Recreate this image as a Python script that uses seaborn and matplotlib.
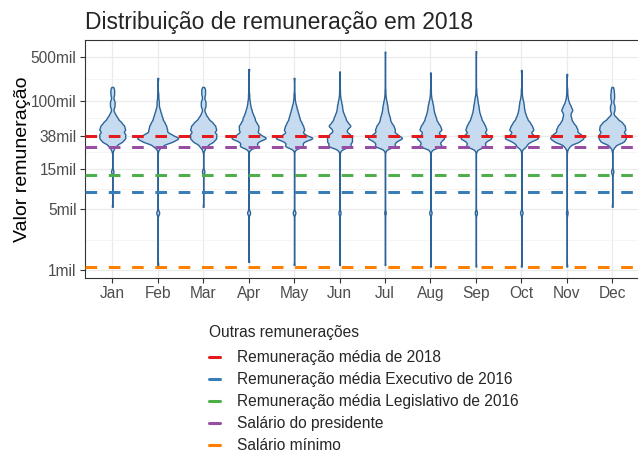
import numpy as np
import pandas as pd
import matplotlib
matplotlib.use("Agg")
import matplotlib.pyplot as plt
from matplotlib.lines import Line2D
from matplotlib.ticker import FixedLocator, NullFormatter
import seaborn as sns

months = ["Jan", "Feb", "Mar", "Apr", "May", "Jun",
          "Jul", "Aug", "Sep", "Oct", "Nov", "Dec"]

# salary levels (R$) where the bulk of the payroll sits
levels = [26000, 29000, 32500, 36000, 40000, 45000, 50000, 55500,
          62000, 69000, 77000, 86000, 96000, 107000, 119000, 133000]

# people at each level, per month
n_jan = [2, 8, 20, 26, 27, 27, 24, 18, 11, 6, 2, 5, 5, 2, 4, 4]
n_feb = [1, 8, 24, 36, 22, 16, 14, 11, 8, 6, 4, 2, 2, 1, 1, 0]
n_mar = [2, 8, 20, 26, 27, 27, 24, 18, 10, 5, 2, 5, 5, 2, 4, 4]
n_apr = [1, 16, 14, 30, 18, 16, 16, 12, 10, 7, 5, 3, 2, 1, 1, 0]
n_may = [1, 18, 16, 36, 18, 19, 16, 13, 10, 8, 6, 4, 2, 1, 1, 0]
n_jun = [3, 28, 28, 28, 24, 16, 26, 18, 14, 10, 7, 6, 4, 2, 1, 1]
n_jul = [2, 26, 24, 42, 28, 24, 20, 14, 12, 9, 7, 6, 4, 2, 1, 1]
n_aug = [2, 26, 20, 30, 18, 24, 20, 15, 12, 9, 7, 6, 4, 2, 1, 1]
n_sep = [2, 24, 20, 36, 22, 24, 20, 16, 12, 9, 7, 6, 4, 3, 1, 1]
n_oct = [1, 10, 16, 34, 20, 24, 20, 16, 11, 8, 6, 5, 4, 2, 1, 1]
n_nov = [1, 6, 24, 34, 28, 22, 18, 12, 9, 7, 12, 8, 4, 2, 1, 1]
n_dec = [1, 6, 24, 28, 28, 28, 26, 20, 10, 2, 5, 5, 2, 4, 4, 3]

# extremes and the small isolated group of each month
min_salary = [5570, 1150, 5570, 1250, 1150, 1150, 1150, 1100, 1100, 1100, 1100, 5570]
max_salary = [144000, 184000, 144000, 234000, 184000, 219000,
              375000, 213000, 380000, 228000, 205000, 144000]
small_group = [14500, 4740, 14500, 4740, 4740, 4740, 4740, 4740, 4740, 4740, 4740, 14500]
small_group_n = [3, 3, 3, 3, 3, 3, 2, 3, 3, 3, 2, 3]

# reference salaries
ref_labels = ["Remuneração média de 2018",
              "Remuneração média Executivo de 2016",
              "Remuneração média Legislativo de 2016",
              "Salário do presidente",
              "Salário mínimo"]
ref_values = [38500, 8300, 13200, 28400, 1094]
ref_colors = ["#E41A1C", "#377EB8", "#4DAF4A", "#984EA3", "#FF7F00"]

tick_values = [1000, 5200, 15700, 38300, 99500, 325000]
tick_labels = ["1mil", "5mil", "15mil", "38mil", "100mil", "500mil"]

# build the long table
all_counts = [n_jan, n_feb, n_mar, n_apr, n_may, n_jun,
              n_jul, n_aug, n_sep, n_oct, n_nov, n_dec]
frames = []
for m, cnt, lo, hi, sg, sn in zip(months, all_counts, min_salary, max_salary,
                                  small_group, small_group_n):
    vals = np.concatenate([np.repeat(levels, cnt), [lo, hi], np.repeat(sg, sn)])
    frames.append(pd.DataFrame({"mes": m, "valor": vals}))
df = pd.concat(frames, ignore_index=True)

sns.set_theme(style="white")
plt.rcParams["font.family"] = ["Liberation Sans", "DejaVu Sans"]

fig = plt.figure(figsize=(6.38, 4.55), dpi=100)
ax = fig.add_axes([85 / 638, 1 - 278 / 455, (639.5 - 85) / 638, (278 - 40) / 455])

# fixed kernel width in log10 space
bw = lambda k: 0.023 / k.dataset.std()

sns.violinplot(data=df, x="mes", y="valor", order=months, log_scale=True,
               width=0.9, cut=0, gridsize=800, bw_method=bw, inner=None,
               color="#c6dbef", linecolor="#2c6499", linewidth=1.0,
               saturation=1, density_norm="area", ax=ax)

for v, c in zip(ref_values, ref_colors):
    ax.axhline(v, color=c, lw=2.15, dashes=(3.9, 3.9), zorder=5)

ax.set_xlim(-0.6, 11.6)
ax.set_ylim(805, 515000)
ax.set_yticks(tick_values)
ax.set_yticklabels(tick_labels)
mids = [np.sqrt(a * b) for a, b in zip(tick_values[:-1], tick_values[1:])]
ax.yaxis.set_minor_locator(FixedLocator(mids))
ax.yaxis.set_minor_formatter(NullFormatter())

ax.set_axisbelow(True)
ax.grid(True, which="major", color="#EBEBEB", lw=0.9)
ax.yaxis.grid(True, which="minor", color="#F2F2F2", lw=0.5)
ax.tick_params(which="major", length=3.5, width=0.8, color="#333333",
               labelsize=11.2, labelcolor="#4D4D4D", pad=2.5, left=True, bottom=True)
ax.tick_params(which="minor", length=0)
for s in ax.spines.values():
    s.set_color("#333333")
    s.set_linewidth(0.8)

ax.set_xlabel("")
ax.set_ylabel("Valor remuneração", fontsize=14, labelpad=0, color="black")
ax.set_title("Distribuição de remuneração em 2018", loc="left", fontsize=16.5, pad=8)

# legend below the panel
fig.text(209 / 638, 1 - 333 / 455, "Outras remunerações", fontsize=11.2,
         ha="left", va="center")
handles = [Line2D([0], [0], color=c, lw=2.2) for c in ref_colors]
fig.legend(handles, ref_labels, loc="upper left",
           bbox_to_anchor=(209 / 638, 1 - 350 / 455), borderaxespad=0,
           frameon=False, borderpad=0, fontsize=11.2,
           handlelength=0.7, handletextpad=1.1, labelspacing=0.45)

fig.savefig("out.png", dpi=100)
